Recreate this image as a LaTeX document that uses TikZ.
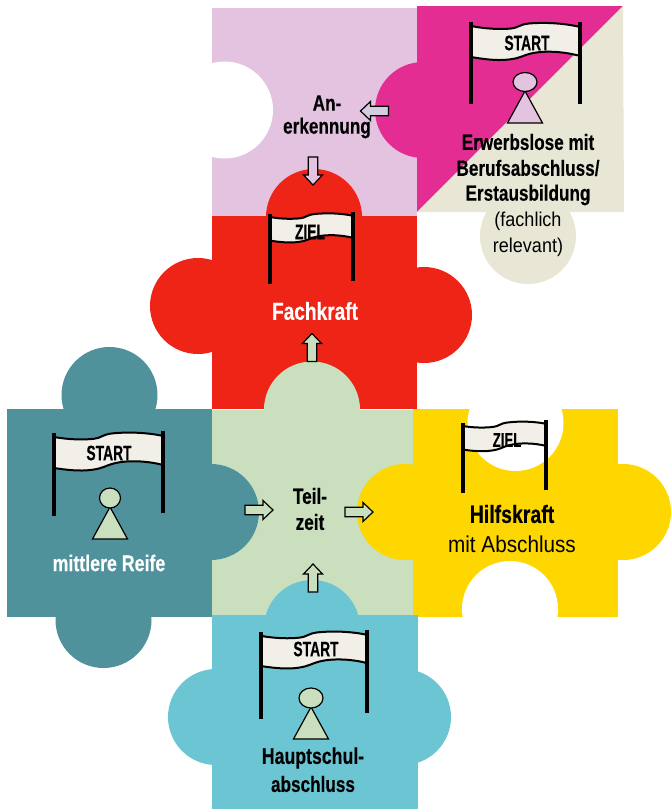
\documentclass[tikz,border=0pt]{standalone}
\usepackage{fontspec}
\setmainfont[FakeStretch=0.78,BoldFeatures={FakeBold=0.3}]{Liberation Sans}
\newfontfamily\regf[FakeStretch=0.9]{Liberation Sans}
\newfontfamily\flagf[FakeStretch=0.66,BoldFeatures={FakeBold=0.3}]{Liberation Sans}
\definecolor{lilac}{HTML}{E3C3E0}
\definecolor{magentaP}{HTML}{E32D93}
\definecolor{beige}{HTML}{E8E7D6}
\definecolor{redP}{HTML}{EE2416}
\definecolor{greenP}{HTML}{C9DFBD}
\definecolor{tealP}{HTML}{4F929B}
\definecolor{yellowP}{HTML}{FFD700}
\definecolor{blueP}{HTML}{6CC5D3}
\definecolor{bannerC}{HTML}{F2EFE8}
\definecolor{arrowL}{HTML}{D5CCE0}
\tikzset{
  lab/.style={inner sep=0pt,font=\fontsize{22}{24}\selectfont\bfseries,text=black},
  labreg/.style={inner sep=0pt,font=\regf\fontsize{20}{24}\selectfont,text=black},
  flagtext/.style={inner sep=0pt,font=\flagf\fontsize{21}{22}\selectfont\bfseries,text=black},
  pole/.style={line width=4.8pt,black},
  banner/.style={fill=bannerC,draw=black,line width=2pt},
  blockar/.style={draw=black,line width=1.2pt,line join=miter},
  person/.style={draw=black,line width=1.2pt},
}
% xl ytl ybl xr ytr ybr
\newcommand{\flagdraw}[6]{%
  \pgfmathsetmacro{\fs}{(#4-#1)/109}
  \pgfmathsetmacro{\fsl}{(#2-#5)/(#4-#1)}
  \begin{scope}[shift={(#1,#2)},xscale=\fs,yscale=\fs,yslant=\fsl]
    \path[banner] (0,4) .. controls (15,7) and (30,7.5) .. (40,6.5)
      .. controls (47,6) and (48,2.5) .. (58,1.5)
      .. controls (75,0) and (95,1.5) .. (109,5) -- (109,34)
      .. controls (95,30) and (75,28) .. (60,31.5)
      .. controls (50,34) and (50,36) .. (38,37.5)
      .. controls (25,39) and (12,37) .. (0,35) -- cycle;
  \end{scope}
  \draw[pole] (#1,#2) -- (#1,#3);
  \draw[pole] (#4,#5) -- (#4,#6);
}
\newcommand{\blockarrow}[4]{%
  \begin{scope}[shift={(#1,#2)},rotate=#3]
    \path[blockar,fill=#4] (-14,-4.8) -- (4,-4.8) -- (4,-9.5) -- (14,0) -- (4,9.5) -- (4,4.8) -- (-14,4.8) -- cycle;
  \end{scope}
}
\newcommand{\persondraw}[6]{%
  \path[person,fill=#6] (#1,#5) -- (#1-17.5,#5+32) -- (#1+17.5,#5+32) -- cycle;
  \path[person,fill=#6] (#1,#2) ellipse [x radius=#3,y radius=#4];
}
\begin{document}
\begin{tikzpicture}[x=1pt,y=-1pt]
\useasboundingbox (0,0) rectangle (671,809);
% Anerkennung piece
\fill[lilac] (212,8) rectangle (417,216);
\fill[white] (224.5,110) circle [radius=48.5];
\fill[magentaP] (423,110) circle [radius=48];
\fill[beige] (528,236) circle [radius=48];
\fill[magentaP] (417,6) -- (623,6) -- (417,212) -- cycle;
\fill[beige] (623,6) -- (624,212) -- (417,212) -- cycle;
% Fachkraft
\fill[redP] (314,217) circle [radius=48];
\fill[redP] (198,306) circle [radius=48];
\fill[redP] (424,315) circle [radius=48];
\fill[redP] (212,216) rectangle (417,408.5);
\fill[greenP] (312,409.5) circle [radius=48];
% Teilzeit
\fill[greenP] (212,409.5) rectangle (417,616);
% mittlere Reife
\fill[tealP] (109.5,395) circle [radius=48];
\fill[tealP] (103.5,620) circle [radius=48];
\fill[tealP] (7,409) rectangle (212,617);
\fill[tealP] (211,512) circle [radius=48];
% Hilfskraft
\fill[yellowP] (405,512) circle [radius=48];
\fill[yellowP] (623,512) circle [radius=48];
\fill[yellowP] (413,409) rectangle (618,617);
\fill[white] (515.5,423) circle [radius=48];
\fill[white] (468,405) rectangle (563,409);
\fill[white] (510,609) circle [radius=48];
\fill[white] (462,617) rectangle (558,625);
% Hauptschulabschluss
\fill[blueP] (312,628) circle [radius=48];
\fill[blueP] (216,717) circle [radius=48];
\fill[blueP] (403,717) circle [radius=48];
\fill[blueP] (212,615) rectangle (418,809);
% flags
\flagdraw{471}{22}{104}{580}{22}{104}
\node[flagtext] (startA) at (527,43) {START};
\flagdraw{270}{214}{284}{353}{212}{281}
\node[flagtext] (zielA) at (310,232) {ZIEL};
\flagdraw{54}{433}{516}{163}{431}{513}
\node[flagtext] (startB) at (109,453) {START};
\flagdraw{463}{423}{493}{546}{420}{490}
\node[flagtext,font=\flagf\fontsize{20}{22}\selectfont\bfseries] (zielB) at (507,440) {ZIEL};
\flagdraw{261}{632}{719}{367}{630}{713}
\node[flagtext] (startC) at (316,649) {START};
% persons
\persondraw{525}{82}{12}{9.5}{91}{lilac}
\persondraw{110}{498}{10.5}{10}{507}{greenP}
\persondraw{311}{698}{12}{10}{707}{greenP}
% arrows
\blockarrow{374.5}{111}{180}{arrowL}
\blockarrow{313}{171}{270}{lilac}
\blockarrow{312}{347.5}{90}{greenP}
\blockarrow{259}{510}{0}{greenP}
\blockarrow{359}{512}{0}{greenP}
\blockarrow{313}{578}{90}{greenP}
% labels
\node[lab] (an1) at (327,103) {An-};
\node[lab] (an2) at (327,128) {erkennung};
\node[lab] (er1) at (528,142) {Erwerbslose mit};
\node[lab] (er2) at (528,168) {Berufsabschluss/};
\node[lab] (er3) at (528,195) {Erstausbildung};
\node[labreg] (fa1) at (528,221) {(fachlich};
\node[labreg] (fa2) at (528,247) {relevant)};
\node[lab,text=white,font=\fontsize{24.5}{26}\selectfont\bfseries] (fk) at (315,311) {Fachkraft};
\node[lab,text=white,font=\fontsize{22.8}{26}\selectfont\bfseries] (mr) at (109,563) {mittlere Reife};
\node[lab] (tz1) at (310,496) {Teil-};
\node[lab] (tz2) at (310,522) {zeit};
\node[lab,font=\fontsize{25}{26}\selectfont\bfseries] (hk) at (512,514) {Hilfskraft};
\node[labreg,font=\regf\fontsize{23}{26}\selectfont] (hk2) at (512,544) {mit Abschluss};
\node[lab,font=\fontsize{22.7}{26}\selectfont\bfseries] (hs1) at (313,758) {Hauptschul-};
\node[lab] (hs2) at (313,784) {abschluss};
\end{tikzpicture}
\end{document}
